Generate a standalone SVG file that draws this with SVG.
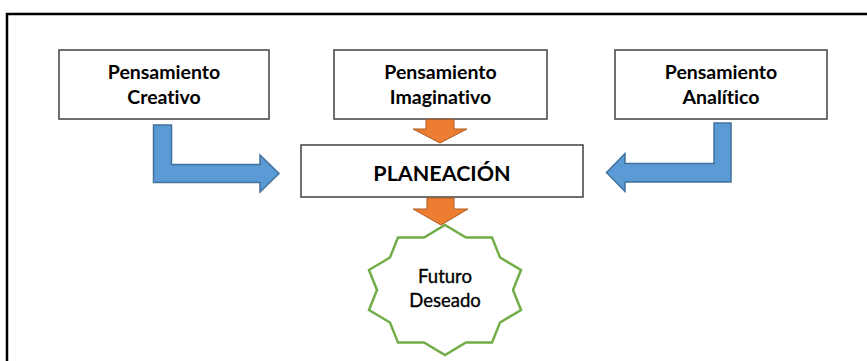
<svg xmlns="http://www.w3.org/2000/svg" width="867" height="361" viewBox="0 0 867 361">
<style>
text{font-variant-ligatures:none;font-feature-settings:"liga" 0,"dlig" 0}
.box{fill:#fff;stroke:#404040;stroke-width:1.5}
.lbl{font-family:Lato,"Open Sans",sans-serif;font-weight:bold;font-size:19.5px;fill:#000;text-anchor:middle}
.big{font-size:21.5px}
.star{font-family:Lato,"Open Sans",sans-serif;font-size:18.5px;fill:#000;text-anchor:middle;stroke:#000;stroke-width:0.35}
.blue{fill:#5B9BD5;stroke:#41719C;stroke-width:1.5;stroke-linejoin:miter}
.orange{fill:#ED7D31;stroke:#AE5A21;stroke-width:1}
</style>
<rect x="0" y="0" width="867" height="361" fill="#fff"/>
<rect x="7" y="14" width="900" height="400" fill="none" stroke="#000" stroke-width="2.5"/>
<g id="creativo">
<rect class="box" x="59" y="50" width="210" height="69"/>
<text class="lbl" x="164" y="79">Pensamiento</text>
<text class="lbl" x="164" y="104">Creativo</text>
</g>
<g id="imaginativo">
<rect class="box" x="334" y="50" width="213" height="69"/>
<text class="lbl" x="440.5" y="79">Pensamiento</text>
<text class="lbl" x="440.5" y="104">Imaginativo</text>
</g>
<g id="analitico">
<rect class="box" x="615" y="50" width="212" height="69"/>
<text class="lbl" x="721" y="79">Pensamiento</text>
<text class="lbl" x="721" y="104">Analítico</text>
</g>
<g id="planeacion">
<rect class="box" x="301" y="145" width="282" height="52"/>
<text class="lbl big" x="442" y="181">PLANEACIÓN</text>
</g>
<g id="futuro">
<polygon points="445,225 466,237.5 492,237.4 500,257.5 521,270 513,290 521,310 500,322.5 492,342.6 466,342.5 445,355 424,342.5 398,342.6 390,322.5 369,310 377,290 369,270 390,257.5 398,237.4 424,237.5" fill="#fff" stroke="#70AD47" stroke-width="2.5"/>
<text class="star" x="445" y="283">Futuro</text>
<text class="star" x="445" y="307">Deseado</text>
</g>
<g id="connectors">
<path class="blue" d="M153.5,125 L171.5,125 L171.5,164.5 L260,164.5 L260,155 L279,173.5 L260,192 L260,182.5 L153.5,182.5 Z"/>
<path class="blue" d="M731,123 L731,182 L625,182 L625,191.5 L606.5,172.5 L625,153.5 L625,163.5 L714,163.5 L714,123 Z"/>
<path class="orange" d="M426,119.5 L454,119.5 L454,129 L467,129 L440,143 L413,129 L426,129 Z"/>
<path class="orange" d="M427,198 L454,198 L454,209 L468,209 L441,225 L413,209 L427,209 Z"/>
</g>
</svg>
